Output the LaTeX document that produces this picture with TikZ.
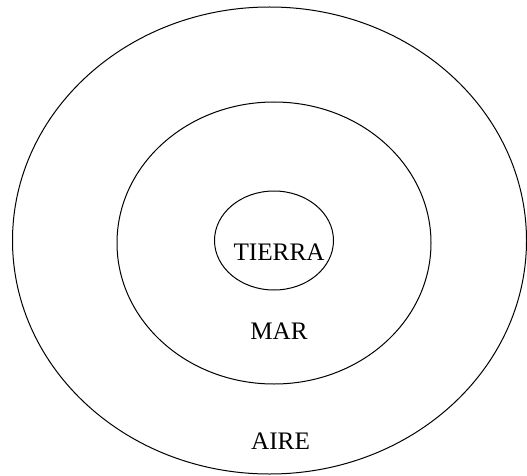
\documentclass[tikz,border=0pt]{standalone}
\usepackage{fontspec}
\setmainfont{Liberation Serif}
\usepackage{tikz}
\usetikzlibrary{shapes.geometric}

\begin{document}
\begin{tikzpicture}[
  x=1pt,y=-1pt,
  font=\fontsize{25.2}{30}\selectfont,
  ring/.style={draw,ellipse,line width=1pt,inner sep=0pt},
  lbl/.style={anchor=base,inner sep=0pt},
]
  \useasboundingbox (0,0) rectangle (527,476);
  % rings, outer to inner
  \node[ring,minimum width=514pt,minimum height=467pt] (aire) at (269.5,240.5) {};
  \node[ring,minimum width=314pt,minimum height=282pt] (mar) at (274,243) {};
  \node[ring,minimum width=119pt,minimum height=99pt] (tierra) at (274,240.5) {};
  % labels
  \node[lbl] (ltierra) at (279,260.5) {TIERRA};
  \node[lbl] (lmar) at (279,339) {MAR};
  \node[lbl] (laire) at (280.5,449) {AIRE};
\end{tikzpicture}
\end{document}
